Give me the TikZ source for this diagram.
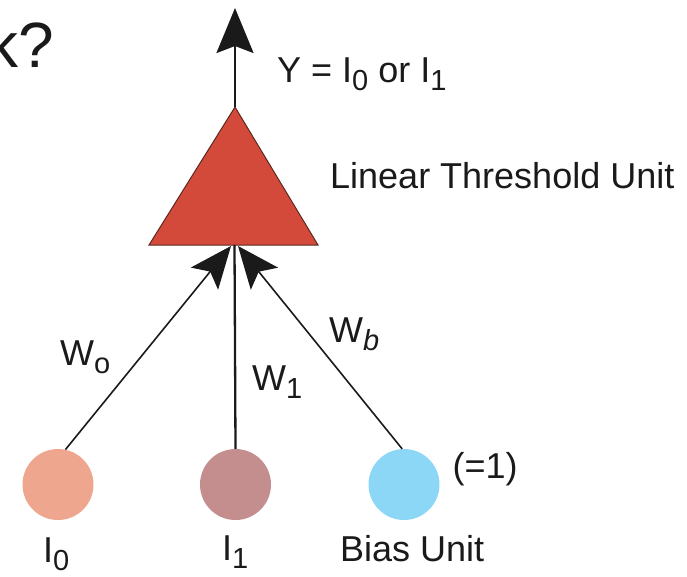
\documentclass[tikz,border=0pt]{standalone}
\usepackage{fontspec}
\setmainfont{Liberation Sans}
\usetikzlibrary{arrows.meta}
\definecolor{trired}{HTML}{D44A3A}
\definecolor{triedge}{HTML}{5A2A22}
\definecolor{inzero}{HTML}{EFA68E}
\definecolor{inone}{HTML}{C48E8F}
\definecolor{biasblue}{HTML}{8DD7F6}
\definecolor{ink}{HTML}{1A1A1A}
\newcommand\subs[1]{\raisebox{-8pt}{\fontsize{29}{30}\selectfont #1}}
\tikzset{
  lbl/.style={inner sep=0pt, anchor=base west, text=ink, font=\fontsize{36}{40}\selectfont},
  unit/.style={circle, minimum size=71pt, inner sep=0pt, draw=none},
  wire/.style={draw=ink, line width=1.6pt},
  vwire/.style={draw=ink, line width=2.3pt},
  bighead/.style={-{Stealth[length=42pt, width=35pt, inset=9pt]}},
  tophead/.style={-{Stealth[length=45pt, width=37pt, inset=7pt]}}
}
\begin{document}
\begin{tikzpicture}[x=1pt, y=-1pt]
\useasboundingbox (0,0) rectangle (687,576);

% title fragment
\node[inner sep=0pt, anchor=base west, text=ink, font=\fontsize{64}{70}\selectfont] (title) at (-14,67) {k?};

% linear threshold unit (triangle)
\coordinate (apex) at (235,107);
\coordinate (bl) at (149,245);
\coordinate (br) at (318,245);
\fill[trired] (apex) -- (br) -- (bl) -- cycle;
\draw[triedge, line width=1pt, line join=miter] (apex) -- (br) -- (bl) -- cycle;

\coordinate (out) at (235,8);
\coordinate (tipL) at (231,246);
\coordinate (tipM) at (234.5,245);
\coordinate (tipR) at (238,246);

% input units
\node[unit, fill=inzero] (i0) at (58,484.5) {};
\node[unit, fill=inone] (i1) at (235.5,484.5) {};
\node[unit, fill=biasblue] (bias) at (404,484.5) {};

% connectors
\draw[vwire, tophead] (apex) -- (out);
\draw[vwire] (i1.north) -- (tipM);
\draw[wire, bighead] (i0.78) -- (tipL);
\draw[wire, bighead] (bias.93) -- (tipR);

% labels
\node[lbl] (ylab) at (277,82) {Y = I\subs{0} or I\subs{1}};
\node[lbl] (ltu) at (330,188) {Linear Threshold Unit};
\node[lbl] (w0) at (60,365) {W\subs{o}};
\node[lbl] (w1) at (252,390) {W\subs{1}};
\node[lbl] (wb) at (329,342) {W\subs{\itshape b}};
\node[lbl] (eq1) at (452.5,478) {(=1)};
\node[lbl] (l0) at (43,562) {I\subs{0}};
\node[lbl] (l1) at (222,560) {I\subs{1}};
\node[lbl] (lb) at (340,561) {Bias Unit};
\end{tikzpicture}
\end{document}
